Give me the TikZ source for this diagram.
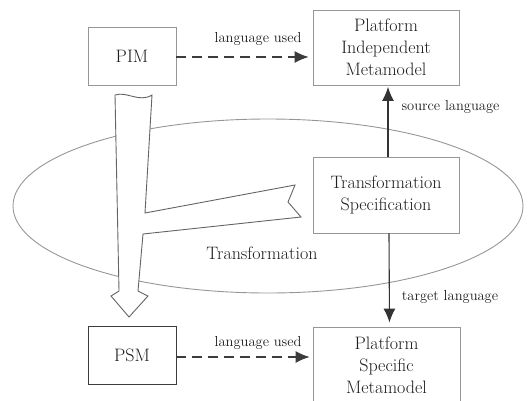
\documentclass[tikz,border=0pt]{standalone}
\usepackage{fontspec}
\usetikzlibrary{arrows.meta,shapes.geometric}
\definecolor{boxline}{RGB}{150,150,150}
\definecolor{darkline}{RGB}{60,60,60}
\definecolor{txt}{RGB}{30,30,30}
\definecolor{bigarrow}{RGB}{100,100,100}
\tikzset{
  box/.style={draw=boxline, fill=white, line width=0.9pt, inner sep=0pt, align=center,
    text=txt, font=\fontsize{18}{22}\selectfont},
  lbl/.style={text=txt, inner sep=0pt, font=\fontsize{14.5}{17}\selectfont},
  dasharrow/.style={draw=darkline, line width=1.1pt, dash pattern=on 10pt off 6pt,
    -{Latex[length=14pt,width=12pt]}},
  solidarrow/.style={draw=black!80, line width=1.1pt, -{Latex[length=14pt,width=12pt]}}
}
\begin{document}
\begin{tikzpicture}[x=1pt,y=-1pt]
\useasboundingbox (0,0) rectangle (530,400);
\clip (0,0) rectangle (530,400);
% ellipse
\node[draw=boxline, line width=0.9pt, ellipse, inner sep=0pt,
      minimum width=510pt, minimum height=174pt] (trans) at (268,206) {};
% big hollow arrow with branch
\draw[bigarrow, line width=0.9pt, fill=white, line join=miter]
  (115,95) .. controls (127,91) and (139,103) .. (152,95)
  -- (145,213) -- (295,185) -- (288,202) -- (301,217)
  -- (143,234) -- (138,291) -- (148,296) -- (129,317)
  -- (111,296) -- (119,291) -- cycle;
\node[lbl, font=\fontsize{18}{22}\selectfont] (translbl) at (262,253) {Transformation};
% boxes
\node[box, minimum width=88pt, minimum height=58pt] (pim) at (132,56) {PIM};
\node[box, minimum width=146pt, minimum height=75pt] (pimm) at (386,47.5)
  {Platform\\Independent\\Metamodel};
\node[box, minimum width=146pt, minimum height=76pt] (spec) at (386,195)
  {Transformation\\Specification};
\node[box, draw=darkline, minimum width=88pt, minimum height=58pt] (psm) at (132,355) {PSM};
\node[box, minimum width=147pt, minimum height=76pt] (psmm) at (386.5,365)
  {Platform\\Specific\\Metamodel};
% connectors
\draw[dasharrow, shorten >=4pt] ([yshift=-1pt]pim.east) -- ([yshift=-1pt]pim.east -| pimm.west)
  node[lbl, pos=0.6, above=11pt] (lu1) {language used};
\draw[dasharrow, shorten >=3pt] ([yshift=-2pt]psm.east) -- ([yshift=-2pt]psm.east -| psmm.west)
  node[lbl, pos=0.6, above=7pt] (lu2) {language used};
\draw[solidarrow, shorten >=1.5pt] ([xshift=2pt]spec.north) -- ([xshift=2pt]pimm.south)
  node[lbl, pos=0.7, right=13pt] (src) {source language};
\draw[solidarrow, shorten >=4pt] ([xshift=3pt]spec.south) -- ([xshift=3pt]psmm.north)
  node[lbl, pos=0.68, right=12pt] (tgt) {target language};
\end{tikzpicture}
\end{document}
